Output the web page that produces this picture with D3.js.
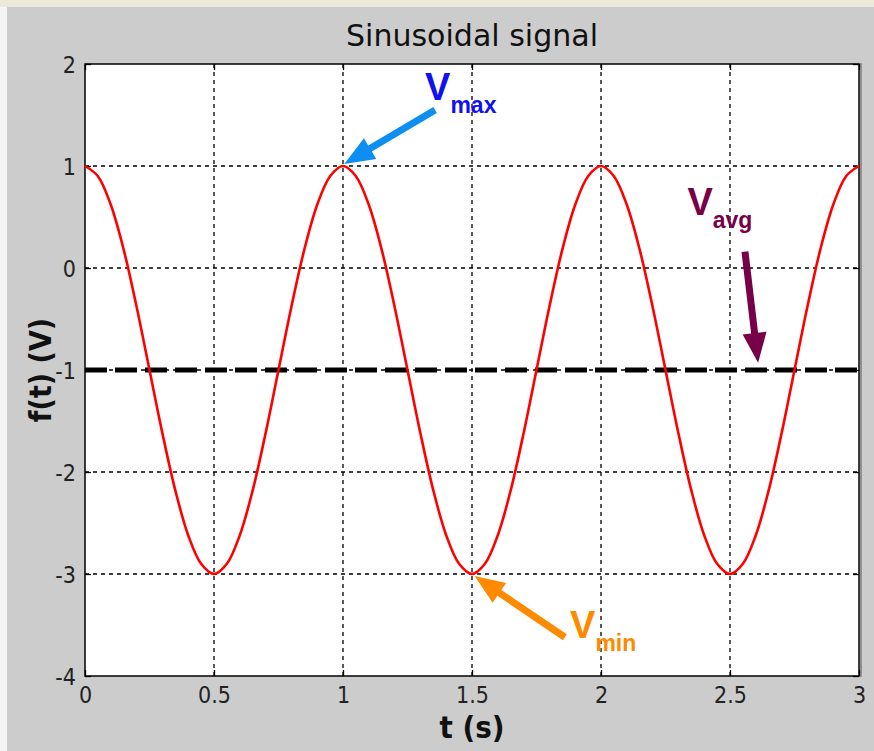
<!DOCTYPE html>
<html>
<head>
<meta charset="utf-8">
<script src="https://cdnjs.cloudflare.com/ajax/libs/d3/7.8.5/d3.min.js"></script>
<style>
  html, body { margin: 0; padding: 0; background: #cccccc; }
  svg { display: block; }
  .tick text { font-family: "DejaVu Sans Condensed", "Liberation Sans", Arial, sans-serif; font-size: 23px; fill: #222; }
</style>
</head>
<body>
<div id="chart"></div>
<script>
// time samples (s) and signal values (V)
const tValues = d3.range(0, 61).map(i => i * 0.05);
const fValues = [
   1.00,  0.90,  0.62,  0.18, -0.38, -1.00, -1.62, -2.18, -2.62, -2.90,
  -3.00, -2.90, -2.62, -2.18, -1.62, -1.00, -0.38,  0.18,  0.62,  0.90,
   1.00,  0.90,  0.62,  0.18, -0.38, -1.00, -1.62, -2.18, -2.62, -2.90,
  -3.00, -2.90, -2.62, -2.18, -1.62, -1.00, -0.38,  0.18,  0.62,  0.90,
   1.00,  0.90,  0.62,  0.18, -0.38, -1.00, -1.62, -2.18, -2.62, -2.90,
  -3.00, -2.90, -2.62, -2.18, -1.62, -1.00, -0.38,  0.18,  0.62,  0.90,
   1.00
];
const avgValue = -1;
const xTicks = [0, 0.5, 1, 1.5, 2, 2.5, 3];
const yTicks = [2, 1, 0, -1, -2, -3, -4];

// annotation labels with arrow tail/tip in data units
const annotations = [
  {main: "V", sub: "max", color: "#1010f0", arrow: "#0c8ef2", lt: 1.318, lv: 1.65, tail: [1.357, 1.55], tip: [1.005, 1.02]},
  {main: "V", sub: "min", color: "#ff8a00", arrow: "#ff8a00", lt: 1.88, lv: -3.63, tail: [1.86, -3.62], tip: [1.51, -3.02]},
  {main: "V", sub: "avg", color: "#780048", arrow: "#780048", lt: 2.335, lv: 0.52, tail: [2.558, 0.16], tip: [2.609, -0.93]}
];

const config = {width: 874, height: 751, margin: {top: 64, right: 15, bottom: 75, left: 85}};
const innerW = config.width - config.margin.left - config.margin.right;
const innerH = config.height - config.margin.top - config.margin.bottom;
const labelFont = "'DejaVu Sans Condensed', 'Liberation Sans', Arial, sans-serif";

const svg = d3.select("#chart").append("svg")
  .attr("width", config.width)
  .attr("height", config.height);

// window frame
svg.append("rect").attr("width", config.width).attr("height", config.height).attr("fill", "#cccccc");
svg.append("rect").attr("width", config.width).attr("height", 7).attr("fill", "#ece9d8");
svg.append("rect").attr("y", 7).attr("width", 7).attr("height", config.height - 7).attr("fill", "#f4f4f4");

const chart = svg.append("g")
  .attr("transform", `translate(${config.margin.left},${config.margin.top})`);

const xScale = d3.scaleLinear().domain([0, 3]).range([0, innerW]);
const yScale = d3.scaleLinear().domain([-4, 2]).range([innerH, 0]);

chart.append("rect").attr("width", innerW).attr("height", innerH).attr("fill", "#ffffff");

// grid
chart.selectAll(".vgrid")
  .data(xTicks.slice(1, -1))
  .join("line")
  .attr("class", "vgrid")
  .attr("x1", d => xScale(d)).attr("x2", d => xScale(d))
  .attr("y1", 0).attr("y2", innerH)
  .attr("stroke", "#000").attr("stroke-width", 1.3).attr("stroke-dasharray", "4,4");

chart.selectAll(".hgrid")
  .data(yTicks.slice(1, -1))
  .join("line")
  .attr("class", "hgrid")
  .attr("x1", 0).attr("x2", innerW)
  .attr("y1", d => yScale(d)).attr("y2", d => yScale(d))
  .attr("stroke", "#000").attr("stroke-width", 1.3).attr("stroke-dasharray", "4,4");

// axes with inward ticks
const fmt = d => String(d);
const xAxis = d3.axisBottom(xScale).tickValues(xTicks).tickSize(-6).tickPadding(10).tickFormat(fmt);
const yAxis = d3.axisLeft(yScale).tickValues(yTicks).tickSize(-6).tickPadding(9).tickFormat(fmt);

const xAxisG = chart.append("g").attr("transform", `translate(0,${innerH})`).call(xAxis);
const yAxisG = chart.append("g").call(yAxis);
chart.append("g").call(d3.axisTop(xScale).tickValues(xTicks).tickSize(-6).tickFormat(""));
chart.append("g").attr("transform", `translate(${innerW},0)`).call(d3.axisRight(yScale).tickValues(yTicks).tickSize(-6).tickFormat(""));

chart.selectAll(".tick line").attr("stroke", "#000").attr("stroke-width", 1.3);
chart.selectAll(".domain").remove();
yAxisG.selectAll(".tick text").attr("dy", "0.36em");
xAxisG.selectAll(".tick text").attr("dy", "0.76em");

// plot box
chart.append("rect").attr("width", innerW).attr("height", innerH)
  .attr("fill", "none").attr("stroke", "#000").attr("stroke-width", 1.5);
chart.append("line")
  .attr("x1", innerW + 2).attr("x2", innerW + 2).attr("y1", -1).attr("y2", innerH + 1)
  .attr("stroke", "#555").attr("stroke-width", 1);

// average line
chart.append("line")
  .attr("x1", xScale(0)).attr("x2", xScale(3))
  .attr("y1", yScale(avgValue)).attr("y2", yScale(avgValue))
  .attr("stroke", "#000").attr("stroke-width", 5).attr("stroke-dasharray", "22,8");

// signal
const line = d3.line()
  .x((d, i) => xScale(tValues[i]))
  .y(d => yScale(d))
  .curve(d3.curveCatmullRom);

chart.append("path")
  .datum(fValues)
  .attr("d", line)
  .attr("fill", "none")
  .attr("stroke", "#ff0000")
  .attr("stroke-width", 2.6);

// arrows
function arrowPath(tail, tip) {
  const x0 = xScale(tail[0]), y0 = yScale(tail[1]);
  const x1 = xScale(tip[0]), y1 = yScale(tip[1]);
  const dx = x1 - x0, dy = y1 - y0, len = Math.hypot(dx, dy);
  const ux = dx / len, uy = dy / len, px = -uy, py = ux;
  const headL = 30, headW = 12, shaftW = 3.5;
  const bx = x1 - ux * headL, by = y1 - uy * headL;
  const pts = [
    [x0 + px * shaftW, y0 + py * shaftW],
    [bx + px * shaftW, by + py * shaftW],
    [bx + px * headW, by + py * headW],
    [x1, y1],
    [bx - px * headW, by - py * headW],
    [bx - px * shaftW, by - py * shaftW],
    [x0 - px * shaftW, y0 - py * shaftW]
  ];
  return "M" + pts.map(p => p.join(",")).join("L") + "Z";
}

chart.selectAll(".arrow")
  .data(annotations)
  .join("path")
  .attr("class", "arrow")
  .attr("d", d => arrowPath(d.tail, d.tip))
  .attr("fill", d => d.arrow);

const labels = chart.selectAll(".annot")
  .data(annotations)
  .join("text")
  .attr("class", "annot")
  .attr("x", d => xScale(d.lt))
  .attr("y", d => yScale(d.lv))
  .attr("fill", d => d.color)
  .style("font-family", "'Liberation Sans', Arial, sans-serif")
  .style("font-weight", "bold");
labels.append("tspan").style("font-size", "38px").text(d => d.main);
labels.append("tspan").style("font-size", "23px").attr("dx", 0).attr("dy", 13).text(d => d.sub);

// title and axis labels
svg.append("text")
  .attr("x", config.margin.left + innerW / 2).attr("y", 46)
  .attr("text-anchor", "middle")
  .attr("textLength", 252).attr("lengthAdjust", "spacingAndGlyphs")
  .style("font-family", labelFont)
  .style("font-size", "31px").attr("fill", "#111")
  .text("Sinusoidal signal");

svg.append("text")
  .attr("x", 472).attr("y", 738)
  .attr("text-anchor", "middle")
  .style("font-family", labelFont)
  .style("font-size", "31px").style("font-weight", "bold").attr("fill", "#111")
  .text("t (s)");

svg.append("text")
  .attr("transform", `translate(51,${config.margin.top + innerH / 2}) rotate(-90)`)
  .attr("text-anchor", "middle")
  .style("font-family", labelFont)
  .style("font-size", "30px").style("font-weight", "bold").attr("fill", "#111")
  .text("f(t) (V)");
</script>
</body>
</html>
